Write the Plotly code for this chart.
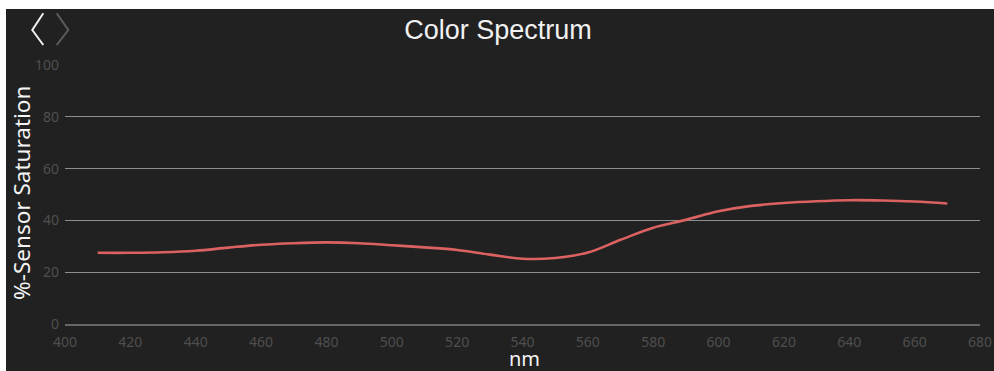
import plotly.graph_objects as go

wavelength_nm = [410, 420, 430, 440, 450, 460, 470, 480, 490, 500, 510, 520, 530, 540,
                 550, 560, 570, 580, 590, 600, 610, 620, 630, 640, 650, 660, 670]
saturation_pct = [27.5, 27.5, 27.7, 28.3, 29.5, 30.6, 31.2, 31.5, 31.2, 30.4, 29.6, 28.6, 26.8, 25.2,
                  25.5, 27.6, 32.5, 37.2, 40.2, 43.5, 45.6, 46.7, 47.4, 47.8, 47.7, 47.3, 46.5]
x_ticks = [400, 420, 440, 460, 480, 500, 520, 540, 560, 580, 600, 620, 640, 660, 680]
y_ticks = [0, 20, 40, 60, 80, 100]
grid_ticks = [20, 40, 60, 80]

# page offset of the figure (body margin) and figure size
OFF_X, OFF_Y = 6, 9
W, H = 994 - OFF_X, 371 - OFF_Y
L, R, T, B = 59, 14, 56, 47
PW, PH = W - L - R, H - T - B


def xp(page_x):
    return (page_x - OFF_X - L) / PW


def yp(page_y):
    return (OFF_Y + H - B - page_y) / PH


BG = "#212121"
TICK_FONT = dict(family="Noto Sans", size=14, color="#4f4f4f")
LABEL_COLOR = "#f4f4f4"

fig = go.Figure()
fig.add_trace(go.Scatter(
    x=wavelength_nm, y=saturation_pct, mode="lines",
    line=dict(color="#dc6262", width=2.6, shape="spline", smoothing=1.0),
    hoverinfo="x+y", showlegend=False,
))
# invisible trace to bind the grid axis
fig.add_trace(go.Scatter(x=[wavelength_nm[0]], y=[saturation_pct[0]], yaxis="y2",
                         mode="markers", marker=dict(opacity=0), showlegend=False, hoverinfo="skip"))

fig.update_layout(
    width=W, height=H,
    margin=dict(l=L, r=R, t=T, b=B, pad=0, autoexpand=False),
    paper_bgcolor=BG, plot_bgcolor=BG,
    title=dict(text="Color Spectrum", x=(498 - OFF_X) / W, xref="container", xanchor="center",
               y=1 - (30 - OFF_Y) / H, yref="container", yanchor="middle",
               font=dict(family="Liberation Sans", size=27, color="#f2f2f2")),
    xaxis=dict(range=[400, 680], tickvals=x_ticks, ticktext=[str(v) for v in x_ticks],
               showgrid=False, zeroline=False, showline=True, linecolor="#666666", linewidth=1.5,
               ticks="", tickfont=TICK_FONT, ticklabelstandoff=4, automargin=False),
    yaxis=dict(range=[0, 100], tickvals=y_ticks, ticktext=[str(v) for v in y_ticks],
               showgrid=False, zeroline=False, showline=False, ticks="", tickfont=TICK_FONT,
               ticklabelstandoff=5, automargin=False),
    yaxis2=dict(range=[0, 100], overlaying="y", tickvals=grid_ticks, showticklabels=False,
                showgrid=True, gridcolor="#8e8e8e", gridwidth=1.4, zeroline=False, showline=False,
                automargin=False),
    annotations=[
        dict(text="nm", xref="paper", yref="paper", x=xp(524), y=yp(358),
             xanchor="center", yanchor="middle", showarrow=False,
             font=dict(family="Noto Sans", size=20, color=LABEL_COLOR)),
        dict(text="%-Sensor Saturation", xref="paper", yref="paper", x=xp(21), y=yp(193),
             xanchor="center", yanchor="middle", textangle=-90, showarrow=False,
             font=dict(family="Noto Sans", size=22.5, color=LABEL_COLOR)),
    ],
    shapes=[
        dict(type="path", xref="paper", yref="paper",
             path=f"M {xp(43.3)},{yp(13.3)} L {xp(32.3)},{yp(30)} L {xp(43.3)},{yp(45)}",
             line=dict(color="#f0f0f0", width=2), layer="above"),
        dict(type="path", xref="paper", yref="paper",
             path=f"M {xp(56.7)},{yp(13.3)} L {xp(68.3)},{yp(30)} L {xp(56.7)},{yp(45)}",
             line=dict(color="#5c5c5c", width=2), layer="above"),
    ],
)

fig.write_html(
    "out.html",
    post_script=f"document.body.style.margin='{OFF_Y}px 0 0 {OFF_X}px';"
                "document.body.style.overflow='hidden';",
)
